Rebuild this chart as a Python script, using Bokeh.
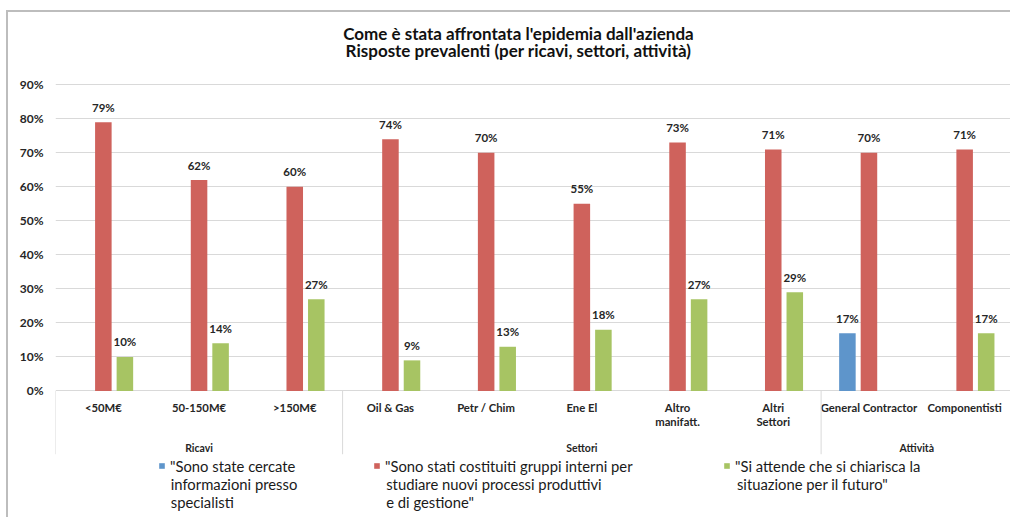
import math
from bokeh.plotting import figure
from bokeh.models import (ColumnDataSource, FactorRange, Range1d, FixedTicker,
                          NumeralTickFormatter, Legend, LegendItem, Label)
from bokeh.core.properties import value
from bokeh.transform import dodge
from bokeh.embed import file_html
from bokeh.resources import INLINE

NaN = float("nan")

# ---------------- data ----------------
title_lines = ["Come è stata affrontata l'epidemia dall'azienda",
               "Risposte prevalenti (per ricavi, settori, attività)"]
groups = ["Ricavi", "Ricavi", "Ricavi",
          "Settori", "Settori", "Settori", "Settori", "Settori",
          "Attività", "Attività"]
categories = ["<50M€", "50-150M€", ">150M€",
              "Oil & Gas", "Petr / Chim", "Ene El", "Altro\nmanifatt.", "Altri\nSettori",
              "General Contractor", "Componentisti"]
series_names = ['"Sono state cercate\ninformazioni presso\nspecialisti',
                '"Sono stati costituiti gruppi interni per\nstudiare nuovi processi produttivi\n e di gestione"',
                '"Si attende che si chiarisca la\nsituazione per il futuro"']
informazioni = [NaN, NaN, NaN, NaN, NaN, NaN, NaN, NaN, 17, NaN]
gruppi_interni = [79, 62, 60, 74, 70, 55, 73, 71, 70, 71]
attesa = [10, 14, 27, 9, 13, 18, 27, 29, NaN, 17]
y_ticks = [0, 10, 20, 30, 40, 50, 60, 70, 80, 90]

colors = ["#5E95CB", "#CF625C", "#A7C463"]
FONT = "Lato"
TXT = "#262626"

# ---------------- geometry (page px) ----------------
PAGE_W, PAGE_H = 1010, 517
CX, CY = 8, 12           # canvas origin on the page (after margin + border)
W, H = PAGE_W - CX, PAGE_H - CY
FL = 55                  # frame left (page)
Y0_PX = 389              # page pixel of 0%
Y90_PX = 84              # page pixel of 90%
PX_PER_UNIT = (Y0_PX - Y90_PX) / 0.9


def ydata(py):
    return (Y0_PX - py) / PX_PER_UNIT


factors = list(zip(groups, categories))
x_range = FactorRange(*factors, factor_padding=0, group_padding=0, range_padding=0)
CAT_PX = (PAGE_W - FL) / len(factors)


def xdata(px):
    return (px - FL) / CAT_PX


p = figure(width=W, height=H, x_range=x_range, y_range=Range1d(ydata(PAGE_H), ydata(CY)),
           output_backend="svg", toolbar_location=None, x_axis_location=None,
           min_border_left=FL - CX, min_border_right=0, min_border_top=0, min_border_bottom=0,
           outline_line_color=None, background_fill_color="white", border_fill_color="white")
p.styles = {"margin-left": "6px", "margin-top": "10px", "box-sizing": "content-box",
            "overflow": "hidden",
            "border-left": "2px solid #bdbdbd", "border-top": "2px solid #bdbdbd"}

ticks = [t / 100 for t in y_ticks]
p.yaxis.ticker = FixedTicker(ticks=ticks)
p.yaxis.formatter = NumeralTickFormatter(format="0%")
p.yaxis.axis_line_color = None
p.yaxis.major_tick_line_color = None
p.yaxis.minor_tick_line_color = None
p.yaxis.major_tick_out = 0
p.yaxis.major_tick_in = 0
p.yaxis.major_label_standoff = 12
p.yaxis.major_label_text_font = FONT
p.yaxis.major_label_text_font_style = "bold"
p.yaxis.major_label_text_font_size = "12px"
p.yaxis.major_label_text_color = TXT
p.ygrid.ticker = FixedTicker(ticks=ticks)
p.ygrid.grid_line_color = "#d9d9d9"
p.xgrid.visible = False


def lab(v):
    return "" if (v is None or math.isnan(v)) else f"{v:.0f}%"


src = ColumnDataSource(dict(
    x=factors,
    s0=[v / 100 for v in informazioni],
    s1=[v / 100 for v in gruppi_interni],
    s2=[v / 100 for v in attesa],
    l0=[lab(v) for v in informazioni],
    l1=[lab(v) for v in gruppi_interni],
    l2=[lab(v) for v in attesa],
))

OFF = 21.5 / CAT_PX
BW = 16.5 / CAT_PX
offsets = [-OFF, 0.0, OFF]
bar_renderers = []
for i in range(3):
    r = p.vbar(x=dodge("x", offsets[i], range=x_range), top=f"s{i}", width=BW,
               bottom=0, source=src, fill_color=colors[i], line_color=None)
    bar_renderers.append(r)
    p.text(x=dodge("x", offsets[i], range=x_range), y=f"s{i}", text=f"l{i}", source=src,
           text_align="center", text_baseline="middle", y_offset=-15,
           text_font=value(FONT), text_font_style="bold", text_font_size="11.5px",
           text_color=TXT)

# category labels
p.text(x="x", y=ydata(398.5), text="cat",
       source=ColumnDataSource(dict(x=factors, cat=categories)),
       text_align="center", text_baseline="top", text_font=value(FONT),
       text_font_style="bold", text_font_size="11.3px", text_color=TXT,
       text_line_height=1.1)

# group labels and separators
uniq_groups = []
first_factor = []
for g, c in factors:
    if g not in uniq_groups:
        uniq_groups.append(g)
        first_factor.append((g, c))
p.text(x="g", y=ydata(446), text="g", source=ColumnDataSource(dict(g=uniq_groups)),
       text_align="center", text_baseline="middle", text_font=value(FONT),
       text_font_style="bold", text_font_size="10.5px", text_color=TXT)
p.segment(x0=dodge("x", -0.5, range=x_range), x1=dodge("x", -0.5, range=x_range),
          y0=0, y1=ydata(452), source=ColumnDataSource(dict(x=first_factor)),
          line_color="#d9d9d9", line_width=1)

# title
for t, py in zip(title_lines, [33, 50]):
    p.add_layout(Label(x=xdata(517), y=ydata(py), text=t, text_align="center",
                       text_baseline="middle", text_font=FONT, text_font_style="bold",
                       text_font_size="17px", text_color="#111111"))

# legends: Excel puts the swatch beside the first line of a wrapped label
leg_x = [158, 373, 723]
LEG_FIRST = 464          # centre of the first legend line (page px)
LINE = 18
FS = 14.8
for i in range(3):
    lines = series_names[i].split("\n")
    item_h = FS * 1.2
    vy = PAGE_H - (LEG_FIRST + item_h / 2)
    leg = Legend(items=[LegendItem(label=lines[0], renderers=[bar_renderers[i]])],
                 location=(leg_x[i] - FL, vy), orientation="horizontal",
                 padding=0, margin=0, border_line_color=None, background_fill_alpha=0,
                 glyph_width=7, glyph_height=7, label_standoff=5,
                 label_text_font=FONT, label_text_font_size=f"{FS}px",
                 label_text_color="#1a1a1a", label_text_line_height=1.2)
    p.add_layout(leg, "center")
    for k, ln in enumerate(lines[1:], start=1):
        p.add_layout(Label(x=xdata(leg_x[i] + 12), y=ydata(LEG_FIRST + k * LINE), text=ln,
                           text_align="left", text_baseline="middle", text_font=FONT,
                           text_font_size=f"{FS}px", text_color="#1a1a1a"))

open("out.html", "w").write(file_html(p, INLINE))
